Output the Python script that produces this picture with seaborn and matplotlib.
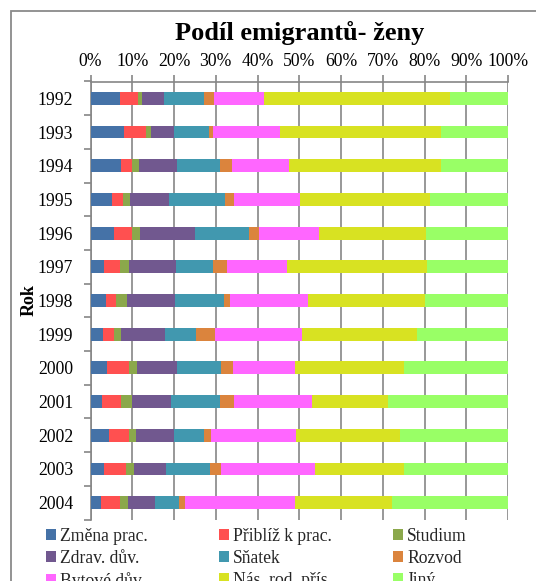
import matplotlib
matplotlib.use("Agg")
import matplotlib.pyplot as plt
from matplotlib.patches import Patch, Rectangle
from matplotlib.ticker import FixedLocator
import numpy as np
import pandas as pd
import seaborn as sns

years = ["1992", "1993", "1994", "1995", "1996", "1997", "1998",
         "1999", "2000", "2001", "2002", "2003", "2004"]

series_names = ["Změna prac.", "Přiblíž k prac.", "Studium",
                "Zdrav. dův.", "Sňatek", "Rozvod",
                "Bytové dův.", "Nás. rod. přís.", "Jiný"]

# shares in percent for each reason, one value per year
zmena_prac = [7.1, 8.0, 7.3, 5.1, 5.6, 3.3, 3.7, 3.1, 3.9, 2.8, 4.4, 3.3, 2.6]
pribliz_k_prac = [4.2, 5.3, 2.6, 2.8, 4.3, 3.7, 2.4, 2.5, 5.3, 4.6, 4.9, 5.2, 4.5]
studium = [1.0, 1.1, 1.8, 1.6, 1.9, 2.3, 2.6, 1.6, 1.9, 2.5, 1.5, 2.0, 2.0]
zdrav_duv = [5.4, 5.7, 9.0, 9.4, 13.3, 11.1, 11.5, 10.7, 9.7, 9.5, 9.1, 7.7, 6.4]
snatek = [9.6, 8.3, 10.3, 13.2, 12.9, 9.0, 11.8, 7.4, 10.5, 11.7, 7.4, 10.5, 5.8]
rozvod = [2.3, 1.0, 3.0, 2.3, 2.4, 3.2, 1.4, 4.5, 2.8, 3.2, 1.5, 2.6, 1.4]
bytove_duv = [12.0, 16.0, 13.6, 15.8, 14.4, 14.5, 18.8, 20.8, 14.9, 18.8, 20.4, 22.5, 26.3]
nas_rod_pris = [44.5, 38.6, 36.4, 31.0, 25.5, 33.4, 27.8, 27.5, 26.2, 18.1, 24.9, 21.4, 23.1]
jiny = [13.9, 16.0, 16.0, 18.8, 19.7, 19.5, 20.0, 21.9, 24.8, 28.8, 25.9, 24.8, 27.9]

colors = ["#4572A7", "#FF5050", "#8BA84B", "#71588F", "#4198AF",
          "#DB843D", "#FF66FF", "#D8E222", "#99FF66"]

values = [zmena_prac, pribliz_k_prac, studium, zdrav_duv, snatek,
          rozvod, bytove_duv, nas_rod_pris, jiny]

df = pd.DataFrame({name: vals for name, vals in zip(series_names, values)})
df.insert(0, "Rok", years)
cum = df[series_names].cumsum(axis=1)
cum["Rok"] = years

sns.set_theme(style="white")
plt.rcParams["font.family"] = ["Liberation Serif", "DejaVu Serif"]

fig = plt.figure(figsize=(5.36, 5.81), dpi=100)
ax = fig.add_axes([90.5 / 536, 1 - 519.5 / 581, 417.5 / 536, 438 / 581])

# stacked bars: draw running totals from the largest down so each segment shows
for name, color in reversed(list(zip(series_names, colors))):
    sns.barplot(data=cum, x=name, y="Rok", order=years, orient="h",
                color=color, width=0.38, saturation=1, ax=ax,
                edgecolor="none", linewidth=0, zorder=3)

grid_c = "#868686"
ax.set_xlim(0, 100)
ax.set_ylim(12.5, -0.5)
ax.xaxis.tick_top()
ax.set_xticks(np.arange(0, 101, 10))
ax.set_xticklabels([f"{v}%" for v in range(0, 101, 10)], fontsize=12.7)
ax.grid(axis="x", color=grid_c, linewidth=1.2, zorder=0)
ax.set_axisbelow(True)
ax.tick_params(axis="x", which="major", top=True, direction="out", length=5,
               width=1.2, color=grid_c, pad=3, labelcolor="black")
ax.tick_params(axis="y", which="major", length=0, pad=12.5, labelsize=12.7,
               labelcolor="black")
ax.yaxis.set_minor_locator(FixedLocator(np.arange(-0.5, 13, 1.0)))
ax.tick_params(axis="y", which="minor", left=True, direction="out", length=5,
               width=1.2, color=grid_c)
ax.set_xlabel("")
for side in ["right", "bottom"]:
    ax.spines[side].set_visible(False)
for side in ["left", "top"]:
    ax.spines[side].set_color(grid_c)
    ax.spines[side].set_linewidth(1.2)

ax.set_ylabel("Rok", fontsize=13, fontweight="bold", color="black")
ax.yaxis.set_label_coords(-0.127, 0.5)

ax.set_title("Podíl emigrantů- ženy", fontsize=19, fontweight="bold",
             color="black", pad=30)

# outer chart frame
fig.patches.append(Rectangle((11 / 536, -0.1), 1.2, 1 - 11 / 581 + 0.1,
                             transform=fig.transFigure, fill=False,
                             edgecolor="#8a8a8a", linewidth=1.3))

# legend in three columns laid out row by row
handles = [Patch(facecolor=c, edgecolor="none") for c in colors]
col_x = [46, 219, 393]
for col in range(3):
    idx = [col, col + 3, col + 6]
    fig.legend([handles[i] for i in idx], [series_names[i] for i in idx],
               loc="upper left", bbox_to_anchor=(col_x[col] / 536, 1 - 528 / 581),
               frameon=False, fontsize=12.7, handlelength=0.55, handleheight=0.55,
               handletextpad=0.25, labelspacing=0.28, borderpad=0, borderaxespad=0)

fig.savefig("out.png", dpi=100)
